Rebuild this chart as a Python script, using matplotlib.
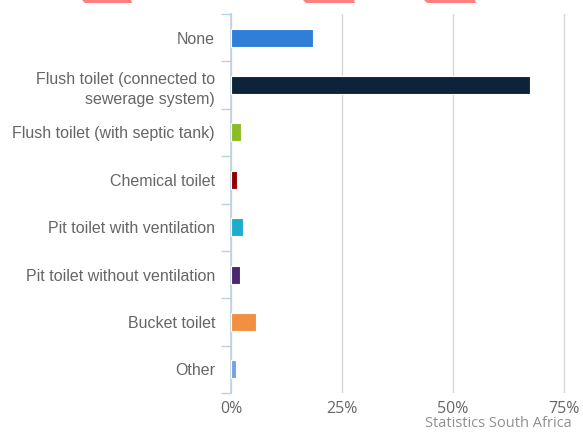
import matplotlib.pyplot as plt
from matplotlib.patches import Polygon

categories = [
    "None",
    "Flush toilet (connected to\nsewerage system)",
    "Flush toilet (with septic tank)",
    "Chemical toilet",
    "Pit toilet with ventilation",
    "Pit toilet without ventilation",
    "Bucket toilet",
    "Other",
]
shares = [18.4, 67.3, 2.3, 1.3, 2.6, 2.0, 5.6, 1.1]
colors = ["#2f7ed8", "#0d233a", "#8bbc21", "#910000",
          "#1aadce", "#492970", "#f28f43", "#77a1e5"]
x_ticks = [0, 25, 50, 75]

W, H = 583, 433
fig = plt.figure(figsize=(W / 100, H / 100), dpi=100)
ax = fig.add_axes([231 / W, 40 / H, (W - 231) / W, 379 / H])

pos = list(range(len(categories)))
ax.barh(pos, shares, height=0.38, color=colors, edgecolor="white",
        linewidth=0.8, zorder=3)
ax.set_ylim(len(categories) - 0.5, -0.5)
ax.set_xlim(0, 79.3)

# category labels in the middle, tick marks on the boundaries
ax.set_yticks(pos)
ax.set_yticklabels(categories, fontfamily="Liberation Sans", fontsize=11.5,
                   color="#666666", linespacing=1.45)
ax.tick_params(axis="y", which="major", length=0, pad=11.5)
ax.set_yticks([p - 0.5 for p in pos] + [len(pos) - 0.5], minor=True)
ax.tick_params(axis="y", which="minor", length=7, width=1, color="#c0d0e0")

ax.set_xticks(x_ticks)
ax.set_xticklabels([f"{t}%" for t in x_ticks], fontfamily="Open Sans",
                   fontsize=11.5, color="#666666")
ax.tick_params(axis="x", length=0, pad=6)
ax.grid(axis="x", color="#d8d8d8", linewidth=1)
ax.set_axisbelow(True)

for side in ["top", "right", "bottom"]:
    ax.spines[side].set_visible(False)
ax.spines["left"].set_color("#c0d0e0")
ax.spines["left"].set_linewidth(1.2)

fig.text(572 / W, 2 / H, "Statistics South Africa", ha="right", va="bottom",
         fontfamily="Open Sans", fontsize=10.5, color="#909090")

# cropped red shapes along the top edge
for x0, x1 in [(82, 131), (303, 354), (424, 475)]:
    pts = [(x0 / W, 1.0), (x1 / W, 1.0), ((x1 + 1) / W, 1 - 3 / H),
           ((x0 + 3) / W, 1 - 3 / H)]
    fig.patches.append(Polygon(pts, closed=True, transform=fig.transFigure,
                               facecolor="#ff7f7f", edgecolor="none"))

fig.savefig("out.png", dpi=100)
